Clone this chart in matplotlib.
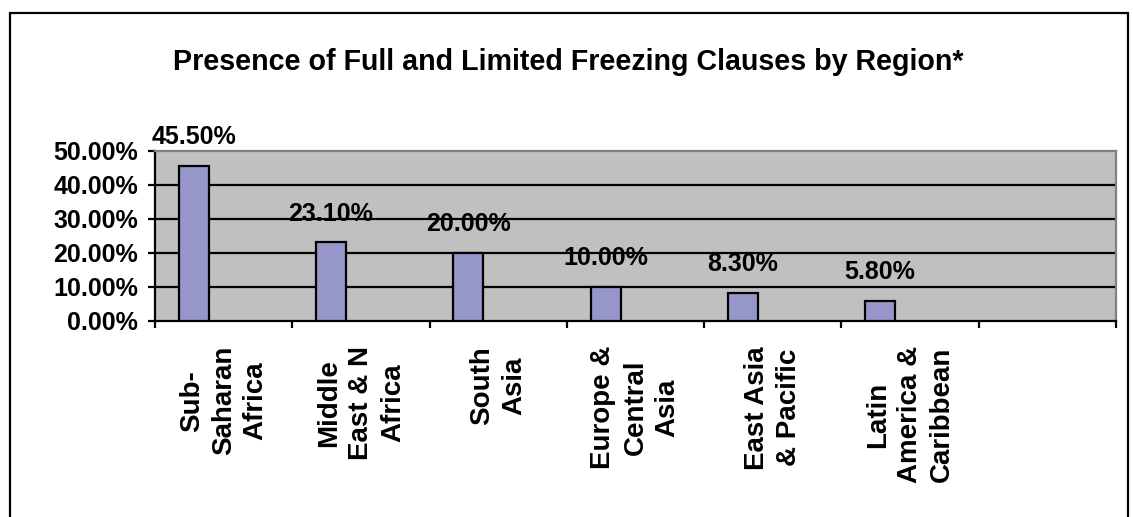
import matplotlib
matplotlib.use('Agg')
import matplotlib.pyplot as plt
from matplotlib.patches import Rectangle
from matplotlib.ticker import FixedLocator, FuncFormatter

# ----------------------------------------------------------------------------
# Data
# ----------------------------------------------------------------------------

regions = ['Sub-\nSaharan\nAfrica', 'Middle\nEast & N\nAfrica', 'South\nAsia',
           'Europe &\nCentral\nAsia', 'East Asia\n& Pacific',
           'Latin\nAmerica &\nCaribbean', '']
shares = [0.455, 0.231, 0.200, 0.100, 0.083, 0.058, None]
labels = ['45.50%', '23.10%', '20.00%', '10.00%', '8.30%', '5.80%', '']
yticks = [0.0, 0.1, 0.2, 0.3, 0.4, 0.5]

title = 'Presence of Full and Limited Freezing Clauses by Region*'

# ----------------------------------------------------------------------------
# Figure
# ----------------------------------------------------------------------------

plt.rcParams['font.family'] = ['Liberation Sans', 'DejaVu Sans']
plt.rcParams['font.weight'] = 'bold'

W, H = 1133, 517
fig = plt.figure(figsize=(W/100, H/100), dpi=100)
fig.patch.set_facecolor('white')

# outer frame
fig.patches.append(Rectangle((10/W, -0.1), (1128-10)/W, 1.1-13/H,
                             transform=fig.transFigure, fill=False,
                             edgecolor='black', linewidth=1.6))

ax = fig.add_axes([155/W, 1-321/H, (1116-155)/W, (321-151)/H])
ax.set_facecolor('#C0C0C0')

n = len(regions)
w = 0.218
xs = list(range(n))
for i, v in enumerate(shares):
    if v is None:
        continue
    ax.bar(i - w, v, width=w, color='#9696CA', edgecolor='black',
           linewidth=1.6, zorder=3)
    ax.text(i - w, v + 0.085, labels[i], ha='center', va='center',
            fontsize=18, fontweight='bold', zorder=1, clip_on=False)

for y in yticks[1:-1]:
    ax.axhline(y, color='black', linewidth=1.6, zorder=2)

ax.set_xlim(-0.5, n - 0.5)
ax.set_ylim(0, 0.5)

ax.xaxis.set_major_locator(FixedLocator([i - 0.5 for i in range(n + 1)]))
ax.xaxis.set_major_formatter(FuncFormatter(lambda v, p: ''))
ax.xaxis.set_minor_locator(FixedLocator(xs))
ax.set_xticklabels(regions, minor=True, rotation=90, va='top', ha='center',
                   multialignment='center', fontsize=20, fontweight='bold',
                   linespacing=1.3)
ax.tick_params(axis='x', which='major', length=5, width=1.6, direction='out')
ax.tick_params(axis='x', which='minor', length=0, pad=18)

ax.yaxis.set_major_locator(FixedLocator(yticks))
ax.yaxis.set_major_formatter(FuncFormatter(lambda v, p: '%.2f%%' % (v*100)))
ax.tick_params(axis='y', length=5, width=1.6, direction='out', pad=7,
               labelsize=18)
for t in ax.get_yticklabels():
    t.set_fontweight('bold')

for s in ['left', 'bottom']:
    ax.spines[s].set_color('black')
    ax.spines[s].set_linewidth(1.6)
for s in ['top', 'right']:
    ax.spines[s].set_color('#808080')
    ax.spines[s].set_linewidth(1.6)

fig.text(568/W, 1-62/H, title, ha='center', va='center', fontsize=20.6,
         fontweight='bold')

fig.savefig('out.png', dpi=100)
